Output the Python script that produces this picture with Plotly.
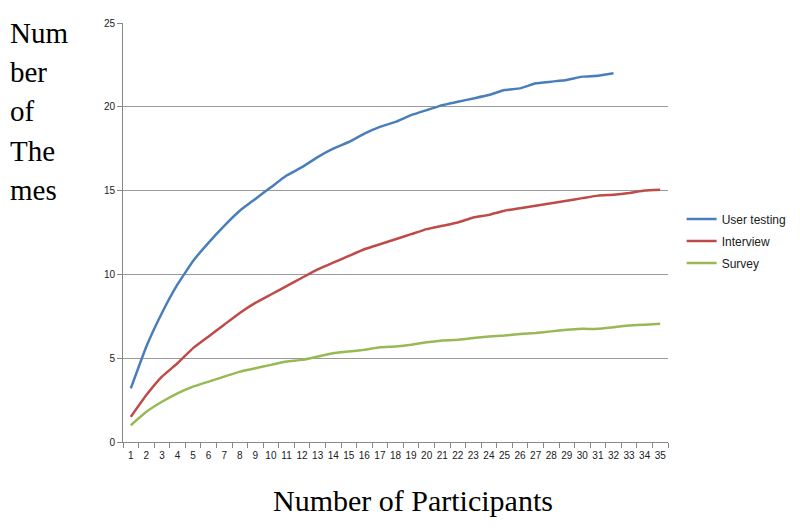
import plotly.graph_objects as go

participants = [str(i) for i in range(1, 36)]

user_testing = [3.2, 5.7, 7.7, 9.4, 10.8, 11.9, 12.9, 13.8, 14.5, 15.2,
                15.9, 16.4, 17.0, 17.5, 17.9, 18.4, 18.8, 19.1, 19.5, 19.8,
                20.1, 20.3, 20.5, 20.7, 21.0, 21.1, 21.4, 21.5, 21.6, 21.8,
                21.85, 22.0]
interview = [1.5, 2.8, 3.9, 4.7, 5.6, 6.3, 7.0, 7.7, 8.3, 8.8,
             9.3, 9.8, 10.3, 10.7, 11.1, 11.5, 11.8, 12.1, 12.4, 12.7,
             12.9, 13.1, 13.4, 13.55, 13.8, 13.95, 14.1, 14.25, 14.4, 14.55,
             14.7, 14.75, 14.85, 15.0, 15.05]
survey = [1.0, 1.8, 2.4, 2.9, 3.3, 3.6, 3.9, 4.2, 4.4, 4.6,
          4.8, 4.9, 5.1, 5.3, 5.4, 5.5, 5.65, 5.7, 5.8, 5.95,
          6.05, 6.1, 6.2, 6.3, 6.35, 6.45, 6.5, 6.6, 6.7, 6.75,
          6.75, 6.85, 6.95, 7.0, 7.05]

y_ticks = [0, 5, 10, 15, 20, 25]
y_title_lines = ["Num", "ber", "of", "The", "mes"]

fig = go.Figure()
series = [("User testing", user_testing, "#4A7EBB"),
          ("Interview", interview, "#BE4B48"),
          ("Survey", survey, "#98B954")]
for name, vals, col in series:
    fig.add_trace(go.Scatter(x=participants[:len(vals)], y=vals, mode="lines",
                             name=name, legendgroup=name,
                             line=dict(color=col, width=2.5, shape="spline", smoothing=0.3)))

serif = "Liberation Serif"
fig.update_layout(
    width=800, height=529,
    paper_bgcolor="white", plot_bgcolor="white",
    margin=dict(l=115, r=140, t=9, b=95),
    font=dict(family="Liberation Sans", size=10, color="#303030"),
    showlegend=True,
    legend=dict(x=1.025, y=0.48, xanchor="left", yanchor="middle",
                font=dict(size=12, color="#202020"), tracegroupgap=3,
                itemwidth=30, bgcolor="rgba(0,0,0,0)"),
    xaxis=dict(type="category", categoryorder="array", categoryarray=participants,
               tickson="boundaries", ticks="outside", ticklen=5, tickcolor="#888888",
               showline=True, linecolor="#888888", linewidth=1, showgrid=False,
               tickfont=dict(size=10, color="#202020"), tickangle=0,
               ticklabelstandoff=4, range=[-0.5, 34.5]),
    yaxis=dict(range=[0, 25], tickvals=y_ticks, ticks="outside", ticklen=5,
               tickcolor="#888888", showline=True, linecolor="#888888", linewidth=1,
               showgrid=True, gridcolor="#9a9a9a", gridwidth=1,
               tickfont=dict(size=10, color="#202020"), zeroline=False),
)

for i, t in enumerate(y_title_lines):
    fig.add_annotation(text=t, xref="paper", yref="paper", x=-0.211, y=0.976 - i * 0.0935,
                       xanchor="left", yanchor="middle", showarrow=False,
                       font=dict(family=serif, size=29, color="black"))

fig.add_annotation(text="Number of Participants", xref="paper", yref="paper",
                   x=0.532, y=-0.139, xanchor="center", yanchor="middle", showarrow=False,
                   font=dict(family=serif, size=30, color="black"))

fig.write_html("out.html")
